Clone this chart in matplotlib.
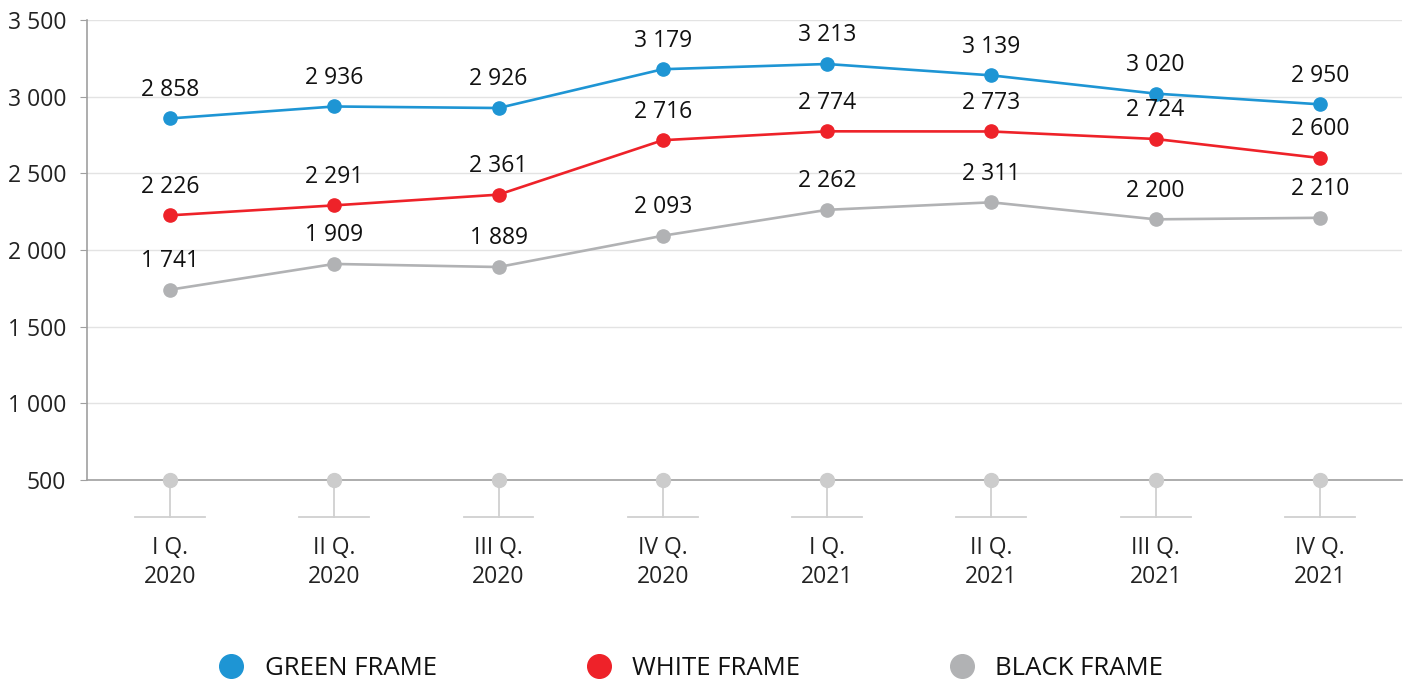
import matplotlib
matplotlib.use("Agg")
import matplotlib.pyplot as plt
import matplotlib.transforms as mtransforms
from matplotlib.lines import Line2D
from matplotlib.ticker import FuncFormatter

plt.rcParams['font.family'] = ['Open Sans', 'DejaVu Sans']

# data
quarters = ["I Q.\n2020", "II Q.\n2020", "III Q.\n2020", "IV Q.\n2020",
            "I Q.\n2021", "II Q.\n2021", "III Q.\n2021", "IV Q.\n2021"]
green = [2858, 2936, 2926, 3179, 3213, 3139, 3020, 2950]
white = [2226, 2291, 2361, 2716, 2774, 2773, 2724, 2600]
black = [1741, 1909, 1889, 2093, 2262, 2311, 2200, 2210]
series_names = ["GREEN FRAME", "WHITE FRAME", "BLACK FRAME"]
colors = ["#1e95d4", "#ee2229", "#b1b2b4"]

fig = plt.figure(figsize=(14.07, 6.84), dpi=100)
ax = fig.add_axes([87 / 1407, 1 - 480 / 684, (1402 - 87) / 1407, 460 / 684])

x = list(range(len(quarters)))
for vals, c in zip([green, white, black], colors):
    ax.plot(x, vals, color=c, lw=1.9, marker='o', ms=9.5, zorder=3)
    for xi, v in zip(x, vals):
        ax.annotate(f"{v:,}".replace(",", " "), (xi, v), xytext=(0, 12),
                    textcoords='offset points', ha='center', va='bottom',
                    fontsize=16.5, color='#111111')

ax.set_xlim(-0.505, 7.5)
ax.set_ylim(500, 3500)
ax.set_yticks(range(500, 3501, 500))
ax.yaxis.set_major_formatter(FuncFormatter(lambda v, p: f"{int(v):,}".replace(",", " ")))
ax.grid(axis='y', color='#e3e3e3', lw=1)
ax.set_axisbelow(True)

for s in ['top', 'right']:
    ax.spines[s].set_visible(False)
ax.spines['left'].set_color('#a0a0a0')
ax.spines['bottom'].set_color('#a0a0a0')
ax.spines['left'].set_linewidth(1.2)
ax.spines['bottom'].set_linewidth(1.2)

ax.tick_params(axis='y', length=5, color='#a0a0a0', labelsize=16.5, labelcolor='#222222', pad=10)
ax.set_xticks(x)
ax.set_xticklabels(quarters, fontsize=16.5, color='#222222', linespacing=1.3)
ax.tick_params(axis='x', length=27, color='#d0d0d0', width=1.3, pad=13)

# decoration under each category
trans = mtransforms.blended_transform_factory(ax.transData, ax.transAxes)
for xi in x:
    ax.plot([xi], [500], marker='o', ms=10, color='#cccccc', clip_on=False, zorder=4)
    ax.add_line(Line2D([xi - 0.213, xi + 0.213], [-37 / 460, -37 / 460],
                       transform=trans, color='#d0d0d0', lw=1.3, clip_on=False))

handles = [Line2D([], [], color=c, marker='o', ls='none', ms=17) for c in colors]
fig.legend(handles, series_names, loc='center', bbox_to_anchor=(0.491, 0.022),
           ncol=3, frameon=False, fontsize=18.5, handlelength=1, handletextpad=0.8,
           columnspacing=5.8, labelcolor='#111111')

fig.savefig("out.png", dpi=100)
